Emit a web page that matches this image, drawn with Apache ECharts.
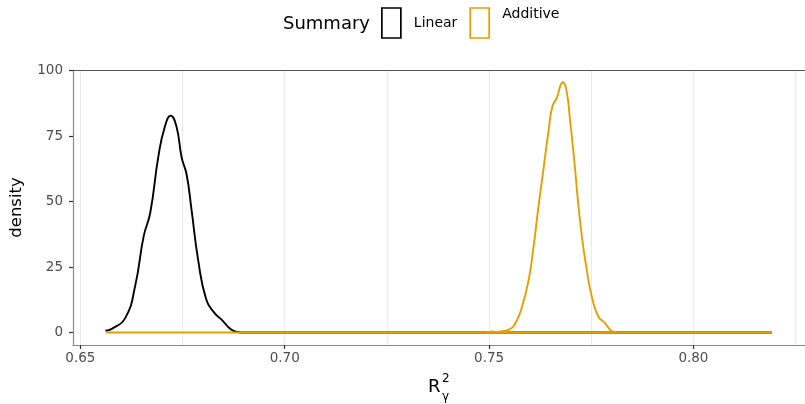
<!DOCTYPE html>
<html>
<head>
<meta charset="utf-8">
<script src="https://cdn.jsdelivr.net/npm/echarts@6/dist/echarts.min.js"></script>
<style>html,body{margin:0;padding:0;background:#fff}#c{width:805px;height:404px}</style>
</head>
<body>
<div id="c"></div>
<script>
var categories = ['Linear', 'Additive'];
var linearX = [0.6561, 0.6577, 0.6610, 0.6634, 0.6655, 0.6671, 0.6691, 0.6707, 0.6721, 0.6735, 0.6748, 0.6760, 0.6772, 0.6788, 0.6808, 0.6828, 0.6845, 0.6869, 0.6885, 0.6900, 0.8192];
var linearY = [0.7, 1.4, 5.6, 17.7, 36.8, 45.7, 67.3, 78.7, 82.8, 78.7, 66.7, 60.3, 46.9, 27.9, 12.6, 7.5, 5.0, 1.1, 0.2, 0, 0];
var additiveX = [0.6563, 0.7490, 0.7508, 0.7516, 0.7524, 0.7549, 0.7565, 0.7581, 0.7597, 0.7609, 0.7621, 0.7633, 0.7646, 0.7655, 0.7666, 0.7674, 0.7680, 0.7689, 0.7698, 0.7709, 0.7718, 0.7728, 0.7739, 0.7751, 0.7767, 0.7783, 0.7803, 0.7815, 0.8192, 0.6563];
var additiveY = [0, 0, 0.4, 0.2, 0.3, 1.1, 3.7, 10, 20.2, 32.9, 48.2, 62.2, 77.5, 86.4, 89.6, 94, 95.5, 92.7, 81.3, 64.8, 49.5, 35.5, 24, 13.9, 6.2, 3.7, 0.3, 0, 0, 0];
var xTicks = [0.65, 0.70, 0.75, 0.80];
var xGrid = [0.65, 0.675, 0.70, 0.725, 0.75, 0.775, 0.80, 0.825];
var yTicks = [0, 25, 50, 75, 100];
var colors = ['#000000', '#E69F00'];

function zip(xs, ys) { return xs.map(function (x, i) { return [x, ys[i]]; }); }

var FONT = 'DejaVu Sans, sans-serif';
var chart = echarts.init(document.getElementById('c'), null, { renderer: 'canvas' });
var xMin = 0.6482, xMax = 0.8273, yMin = -4.77, yMax = 100.2;
chart.setOption({
  animation: false,
  backgroundColor: '#ffffff',
  grid: { left: 71, right: 0, top: 70, bottom: 59, containLabel: false },
  title: {
    text: 'Summary', left: 283, top: 15, padding: 0,
    textStyle: { fontFamily: FONT, fontSize: 18, fontWeight: 'normal', color: '#000' }
  },
  legend: {
    left: 381, top: 5, padding: 0, itemWidth: 19, itemHeight: 30, itemGap: 12, icon: 'rect',
    selectedMode: false,
    textStyle: { fontFamily: FONT, fontSize: 14, lineHeight: 17, color: '#000', padding: [2, 0, 0, 8] },
    formatter: function (name) { return name === 'Additive' ? 'Additive\n ' : name; },
    data: [
      { name: categories[0], itemStyle: { color: 'rgba(0,0,0,0)', borderColor: colors[0], borderWidth: 1.7 } },
      { name: categories[1], itemStyle: { color: 'rgba(0,0,0,0)', borderColor: colors[1], borderWidth: 1.7 } }
    ]
  },
  xAxis: [
    {
      type: 'value', min: xMin, max: xMax, position: 'bottom',
      axisLine: { show: true, onZero: false, lineStyle: { color: '#8a8a8a', width: 1.2 } },
      axisTick: { show: true, length: 4, customValues: xTicks, lineStyle: { color: '#333', width: 1.2 } },
      axisLabel: { customValues: xTicks, margin: 6, fontSize: 13.5, color: '#4d4d4d', fontFamily: FONT,
        formatter: function (v) { return v.toFixed(2); } },
      splitLine: { show: false }
    },
    {
      type: 'value', min: xMin, max: xMax, position: 'top',
      axisLine: { show: true, onZero: false, lineStyle: { color: '#555', width: 1.2 } },
      axisTick: { show: false, customValues: xGrid },
      axisLabel: { show: false, customValues: xGrid },
      splitLine: { show: true, lineStyle: { color: '#ebebeb', width: 1 } }
    }
  ],
  yAxis: {
    type: 'value', min: yMin, max: yMax,
    name: 'density', nameLocation: 'middle', nameGap: 48, nameRotate: 90,
    nameTextStyle: { fontSize: 16.5, color: '#000', fontFamily: FONT },
    axisLine: { show: true, onZero: false, lineStyle: { color: '#8a8a8a', width: 1.2 } },
    axisTick: { show: true, length: 4, customValues: yTicks, lineStyle: { color: '#333', width: 1.2 } },
    axisLabel: { customValues: yTicks, margin: 10, fontSize: 13.5, color: '#4d4d4d', fontFamily: FONT },
    splitLine: { show: false }
  },
  graphic: [
    { type: 'text', left: 428, top: 378, style: { text: 'R', fontSize: 18, fill: '#000', fontFamily: FONT } },
    { type: 'text', left: 442, top: 373, style: { text: '2', fontSize: 12, fill: '#000', fontFamily: FONT } },
    { type: 'text', left: 442, top: 391, style: { text: 'γ', fontSize: 12, fill: '#000', fontFamily: FONT } }
  ],
  series: [
    { name: categories[0], type: 'line', xAxisIndex: 0, data: zip(linearX, linearY), showSymbol: false, symbol: 'none',
      smooth: 0.5, lineStyle: { color: colors[0], width: 1.9 }, itemStyle: { color: colors[0] }, z: 3 },
    { name: categories[1], type: 'line', xAxisIndex: 0, data: zip(additiveX, additiveY), showSymbol: false, symbol: 'none',
      smooth: 0.5, lineStyle: { color: colors[1], width: 1.9 }, itemStyle: { color: colors[1] }, z: 4 }
  ]
});
</script>
</body>
</html>
